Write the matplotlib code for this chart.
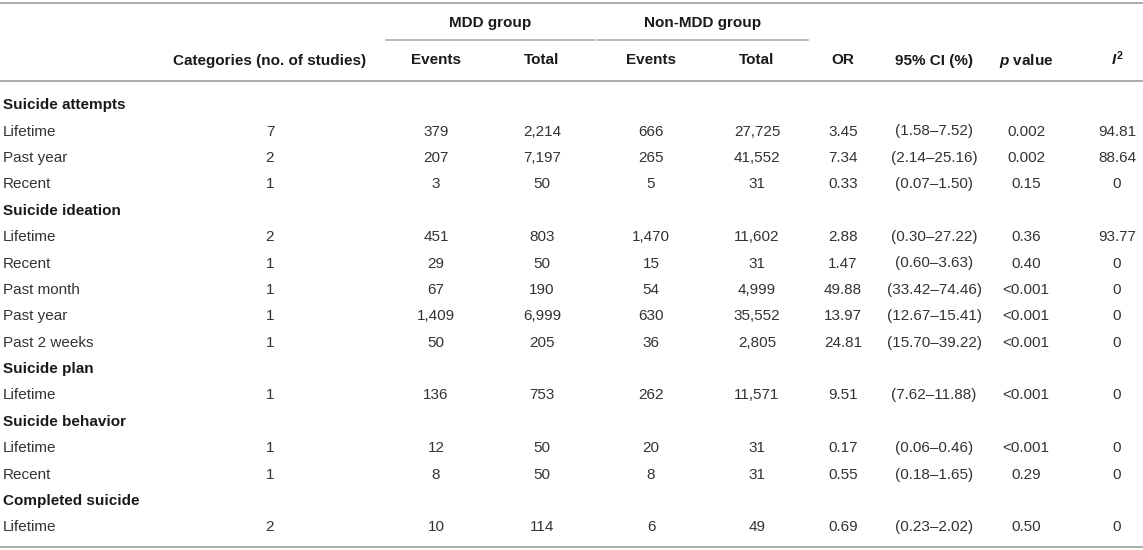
import matplotlib.pyplot as plt

plt.rcParams['font.family'] = ['Liberation Sans', 'DejaVu Sans']
plt.rcParams['mathtext.fontset'] = 'custom'
plt.rcParams['mathtext.rm'] = 'Liberation Sans:bold'
plt.rcParams['mathtext.it'] = 'Liberation Sans:bold:italic'

# table data
sections = ["Suicide attempts", "Suicide ideation", "Suicide plan",
            "Suicide behavior", "Completed suicide"]
labels = ["Lifetime", "Past year", "Recent",
          "Lifetime", "Recent", "Past month", "Past year", "Past 2 weeks",
          "Lifetime",
          "Lifetime", "Recent",
          "Lifetime"]
section_of = [0, 0, 0, 1, 1, 1, 1, 1, 2, 3, 3, 4]
n_studies = [7, 2, 1, 2, 1, 1, 1, 1, 1, 1, 1, 2]
mdd_events = [379, 207, 3, 451, 29, 67, 1409, 50, 136, 12, 8, 10]
mdd_total = [2214, 7197, 50, 803, 50, 190, 6999, 205, 753, 50, 50, 114]
non_events = [666, 265, 5, 1470, 15, 54, 630, 36, 262, 20, 8, 6]
non_total = [27725, 41552, 31, 11602, 31, 4999, 35552, 2805, 11571, 31, 31, 49]
odds_ratio = [3.45, 7.34, 0.33, 2.88, 1.47, 49.88, 13.97, 24.81, 9.51, 0.17, 0.55, 0.69]
ci_low = [1.58, 2.14, 0.07, 0.30, 0.60, 33.42, 12.67, 15.70, 7.62, 0.06, 0.18, 0.23]
ci_high = [7.52, 25.16, 1.50, 27.22, 3.63, 74.46, 15.41, 39.22, 11.88, 0.46, 1.65, 2.02]
p_values = ["0.002", "0.002", "0.15", "0.36", "0.40", "<0.001", "<0.001",
            "<0.001", "<0.001", "<0.001", "0.29", "0.50"]
i_squared = [94.81, 88.64, 0, 93.77, 0, 0, 0, 0, 0, 0, 0, 0]

col_headers = ["Categories (no. of studies)", "Events", "Total", "Events", "Total",
               "OR", "95% CI (%)", "$p$ value", "$I^{2}$"]
col_x = [270, 436, 542, 651, 757, 843, 934, 1026, 1117]

LINE = '#a6a6a6'
BODY = '#333333'
HEAD = '#1a1a1a'
FS = 11

fig = plt.figure(figsize=(11.43, 5.5), dpi=100)
ax = fig.add_axes([0, 0, 1, 1])
ax.set_xlim(0, 1143)
ax.set_ylim(550, 0)
ax.axis('off')

# rules
ax.plot([0, 1143], [3, 3], color=LINE, lw=1.3)
ax.plot([0, 1143], [81, 81], color=LINE, lw=1.3)
ax.plot([0, 1143], [547, 547], color=LINE, lw=1.3)
ax.plot([386, 595], [39.5, 39.5], color=LINE, lw=1.1)
ax.plot([598, 808], [39.5, 39.5], color=LINE, lw=1.1)

# text is placed on its baseline so commas do not shift rows
base = 5.5

ax.text(490, 21 + base, "MDD group", ha='center', va='baseline', fontsize=FS,
        fontweight='bold', color=HEAD)
ax.text(703, 21 + base, "Non-MDD group", ha='center', va='baseline', fontsize=FS,
        fontweight='bold', color=HEAD)

for x, h in zip(col_x, col_headers):
    ax.text(x, 59 + base, h, ha='center', va='baseline', fontsize=FS,
            fontweight='bold', color=HEAD)

# body
y = 103.6
dy = 26.4
prev = -1
for i in range(len(labels)):
    if section_of[i] != prev:
        ax.text(3, y + base, sections[section_of[i]], ha='left', va='baseline',
                fontsize=FS, fontweight='bold', color=HEAD)
        prev = section_of[i]
        y += dy
    i2 = "0" if i_squared[i] == 0 else f"{i_squared[i]:.2f}"
    cells = [str(n_studies[i]), f"{mdd_events[i]:,}", f"{mdd_total[i]:,}",
             f"{non_events[i]:,}", f"{non_total[i]:,}", f"{odds_ratio[i]:.2f}",
             f"({ci_low[i]:.2f}\u2013{ci_high[i]:.2f})", p_values[i], i2]
    ax.text(3, y + base, labels[i], ha='left', va='baseline', fontsize=FS, color=BODY)
    for x, c in zip(col_x, cells):
        ax.text(x, y + base, c, ha='center', va='baseline', fontsize=FS, color=BODY)
    y += dy

fig.savefig('out.png', dpi=100)
